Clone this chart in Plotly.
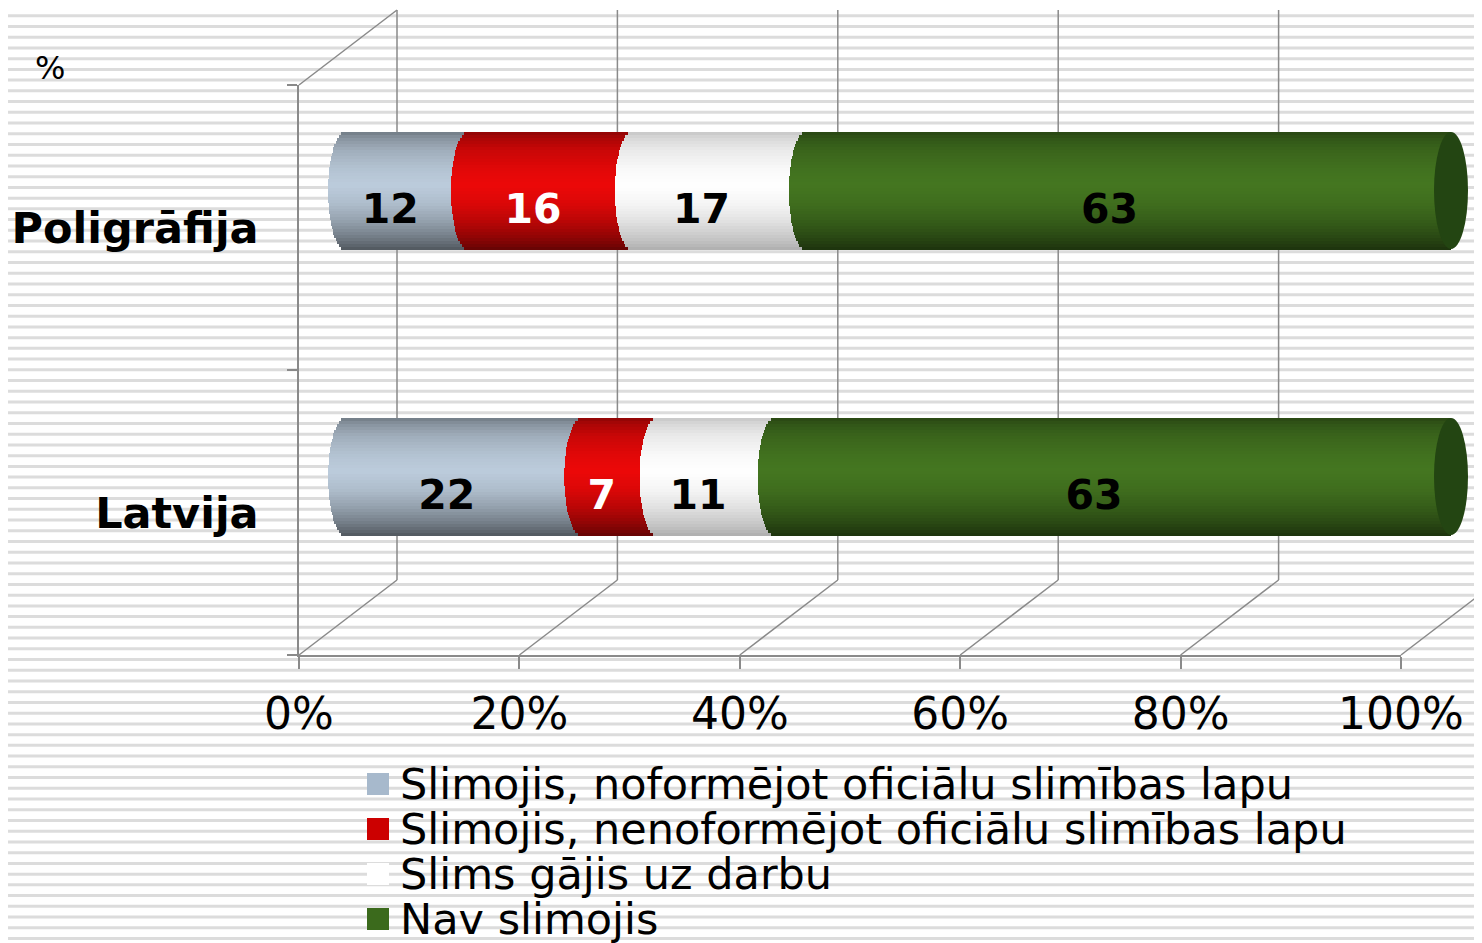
import numpy as np
import plotly.graph_objects as go

# ---------------- data ----------------
categories = ['Poligrāfija', 'Latvija']
series_names = ['Slimojis, noformējot oficiālu slimības lapu',
                'Slimojis, nenoformējot oficiālu slimības lapu',
                'Slims gājis uz darbu',
                'Nav slimojis']
vals_noform = [12, 22]
vals_nenoform = [16, 7]
vals_slims = [17, 11]
vals_nav = [63, 63]
tick_vals = [0, 20, 40, 60, 80, 100]
tick_text = ['0%', '20%', '40%', '60%', '80%', '100%']
unit_label = '%'

# ---------------- style ----------------
PAGE_W, PAGE_H = 1482, 943
OFF = 8  # default page margin of the html body
W, H = PAGE_W - OFF, PAGE_H - OFF
FONT = 'DejaVu Sans'
GRID = '#8a8a8a'
base_colors = [(188, 204, 220), (236, 8, 8), (255, 255, 255), (68, 118, 32)]
shade_strength = [1.0, 1.0, 0.55, 1.0]
legend_colors = ['#a7b9cc', '#cc0000', '#ffffff', '#3b6a1c']
label_colors = ['black', 'white', 'black', 'black']
cap_color = '#234512'


def fx(p):
    return (p - OFF) / W


def fy(p):
    return 1 - (p - OFF) / H


series_vals = [vals_noform, vals_nenoform, vals_slims, vals_nav]
ncat = len(categories)
totals = [sum(s[k] for s in series_vals) for k in range(ncat)]
pct = [[s[k] / totals[k] * 100 for k in range(ncat)] for s in series_vals]
starts = []
acc = [0.0] * ncat
for p in pct:
    starts.append(acc[:])
    acc = [acc[k] + p[k] for k in range(ncat)]

cat_order = categories[::-1]  # Latvija bottom, Poligrāfija top

# geometry of the bar plane (pixels)
X0, X100 = 345, 1451
PXU = (X100 - X0) / 100.0
PADU = 2.0
BW = 117 / 286.0
R = 17 / PXU  # bulge of cylinder ends in data units
N = 40
LABEL_SHIFT = 22

# shading profile (t from top of cylinder)
t_pts = [0, 0.05, 0.15, 0.3, 0.45, 0.6, 0.75, 0.88, 0.96, 1.0]
s_pts = [0.6, 0.72, 0.85, 0.95, 1.0, 0.93, 0.8, 0.63, 0.5, 0.42]

fig = go.Figure()

for j in range(len(series_vals)):
    for i in range(N):
        tc = (i + 0.5) / N
        ttop = 1 - tc
        s = float(np.interp(ttop, t_pts, s_pts))
        s = 1 - shade_strength[j] * (1 - s)
        r, g, b = [int(round(c * s)) for c in base_colors[j]]
        bulge = R * np.sqrt(max(0.0, 1 - (2 * tc - 1) ** 2))
        lefts = [starts[j][k] - bulge for k in range(ncat)]
        if j < len(series_vals) - 1:
            rights = [starts[j][k] + pct[j][k] - bulge for k in range(ncat)]
        else:
            rights = [100.0] * ncat
        fig.add_trace(go.Bar(
            y=categories, x=[rights[k] - lefts[k] for k in range(ncat)],
            base=lefts, orientation='h',
            width=BW / N * 1.1, offset=-BW / 2 + i * BW / N,
            marker=dict(color=f'rgb({r},{g},{b})', line=dict(width=0)),
            xaxis='x', yaxis='y', showlegend=False, hoverinfo='skip'))

# value labels (front plane)
for j in range(len(series_vals)):
    mids = [starts[j][k] + pct[j][k] / 2 for k in range(ncat)]
    fig.add_trace(go.Scatter(
        x=mids, y=categories, mode='text',
        text=[str(v) for v in series_vals[j]],
        textposition='middle center',
        textfont=dict(family=FONT, size=41, color=label_colors[j], weight='bold'),
        xaxis='x3', yaxis='y3', showlegend=False, hoverinfo='skip', cliponaxis=False))

# dummy trace for the front axes
fig.add_trace(go.Scatter(x=[None], y=[None], xaxis='x2', yaxis='y2',
                         showlegend=False, hoverinfo='skip'))

shapes = []
# striped background
y = 5.0
while y < PAGE_H + 3:
    shapes.append(dict(type='line', xref='paper', yref='paper', x0=fx(0), x1=fx(PAGE_W),
                       y0=fy(y), y1=fy(y), line=dict(color='#dcdcdc', width=3),
                       layer='below'))
    y += 10.73

# 3D walls
DX = 98 / 1102.0
for v in tick_vals:
    xd = v / 100.0
    shapes.append(dict(type='line', xref='x2 domain', yref='paper',
                       x0=xd + DX, x1=xd + DX, y0=fy(580), y1=fy(10),
                       line=dict(color=GRID, width=1.5), layer='below'))
    shapes.append(dict(type='line', xref='x2 domain', yref='paper',
                       x0=xd, x1=xd + DX, y0=fy(655), y1=fy(580),
                       line=dict(color=GRID, width=1.5), layer='below'))
shapes.append(dict(type='line', xref='x2 domain', yref='paper',
                   x0=0, x1=DX, y0=fy(85), y1=fy(10),
                   line=dict(color=GRID, width=1.5), layer='below'))

# cylinder end caps
for k, c in enumerate(categories):
    idx = cat_order.index(c)
    shapes.append(dict(type='circle', xref='x', yref='y',
                       x0=100 - R, x1=100 + R, y0=idx - BW / 2, y1=idx + BW / 2,
                       fillcolor=cap_color, line=dict(width=0)))

# legend
annotations = []
for k, name in enumerate(series_names):
    yc = 784 + 45 * k
    shapes.append(dict(type='rect', xref='paper', yref='paper',
                       x0=fx(367), x1=fx(389), y0=fy(yc + 11), y1=fy(yc - 11),
                       fillcolor=legend_colors[k], line=dict(width=0)))
    annotations.append(dict(text=name, xref='paper', yref='paper',
                            x=fx(398), y=fy(yc), xanchor='left', yanchor='middle',
                            showarrow=False,
                            font=dict(family=FONT, size=43, color='black')))

annotations.append(dict(text=unit_label, xref='paper', yref='paper',
                        x=fx(50), y=fy(68), xanchor='center', yanchor='middle',
                        showarrow=False, font=dict(family=FONT, size=32, color='black')))

fig.update_layout(
    width=W, height=H, template='none',
    margin=dict(l=0, r=0, t=0, b=0, pad=0),
    paper_bgcolor='white', plot_bgcolor='rgba(0,0,0,0)',
    barmode='overlay', bargap=0, showlegend=False,
    shapes=shapes, annotations=annotations,
    xaxis=dict(domain=[fx(X0 - PADU * PXU), fx(X100 + PADU * PXU)],
               range=[-PADU, 100 + PADU], visible=False, anchor='y',
               automargin=False, fixedrange=True),
    yaxis=dict(domain=[fy(619.5), fy(47.5)], type='category',
               categoryorder='array', categoryarray=cat_order,
               range=[-0.5, 1.5], visible=False, anchor='x', automargin=False),
    xaxis3=dict(domain=[fx(329), fx(1431)], range=[0, 100], visible=False,
                anchor='y3', automargin=False),
    yaxis3=dict(domain=[fy(619.5 + LABEL_SHIFT), fy(47.5 + LABEL_SHIFT)], type='category',
                categoryorder='array', categoryarray=cat_order,
                range=[-0.5, 1.5], visible=False, anchor='x3', automargin=False),
    xaxis2=dict(domain=[fx(299), fx(1401)], range=[0, 100], anchor='y2',
                tickvals=tick_vals, ticktext=tick_text, ticks='outside',
                ticklen=12, tickwidth=1.5, tickcolor=GRID,
                showline=True, linecolor=GRID, linewidth=1.5,
                showgrid=False, zeroline=False, automargin=False,
                ticklabelstandoff=7,
                tickfont=dict(family=FONT, size=44, color='black')),
    yaxis2=dict(domain=[fy(655), fy(85)], type='category',
                categoryorder='array', categoryarray=cat_order,
                range=[-0.5, 1.5], anchor='x2', tickson='boundaries',
                ticks='outside', ticklen=10, tickwidth=1.5, tickcolor=GRID,
                showline=True, linecolor=GRID, linewidth=1.5,
                showgrid=False, zeroline=False, automargin=False,
                ticklabelstandoff=30,
                tickfont=dict(family=FONT, size=43, color='black', weight='bold')),
)

fig.write_html('out.html')
